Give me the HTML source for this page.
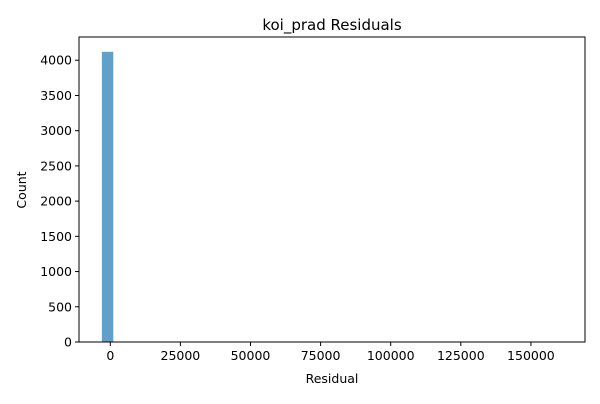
<!DOCTYPE html>
<html><head><meta charset="utf-8"><style>
body{margin:0;background:#fff;font-family:"DejaVu Sans","Liberation Sans",sans-serif;}
</style></head><body>
<svg id="chart" width="600" height="400" xmlns="http://www.w3.org/2000/svg" style="font-family:'DejaVu Sans','Liberation Sans',sans-serif"></svg>
<script>
const binStart = -3000;
const binWidth = 4076;
const counts = [4120,0,0,0,0,0,0,0,0,0,0,0,0,0,0,0,0,0,0,0,0,0,0,0,0,0,0,0,0,0,0,0,0,0,0,0,0,0,0,1];
const xTicks = [0,25000,50000,75000,100000,125000,150000];
const yTicks = [0,500,1000,1500,2000,2500,3000,3500,4000];

const L=79,R=585,T=37,B=342;
const xMin=-11160,xMax=169290,yMax=4330;
const sx=v=>L+(v-xMin)/(xMax-xMin)*(R-L);
const sy=v=>B-v/yMax*(B-T);
const svg=document.getElementById('chart');
const NS='http://www.w3.org/2000/svg';
function mk(tag,attrs,parent){const e=document.createElementNS(NS,tag);for(const k in attrs)e.setAttribute(k,attrs[k]);(parent||svg).appendChild(e);return e;}

counts.forEach((c,i)=>{
  const x0=sx(binStart+i*binWidth),x1=sx(binStart+(i+1)*binWidth);
  const r=mk('rect',{x:x0,y:sy(c),width:x1-x0,height:B-sy(c),fill:'#1f77b4','fill-opacity':0.7});
  
  
});
const frame=mk('rect',{x:L,y:T,width:R-L,height:B-T,fill:'none',stroke:'#000','stroke-width':1});


xTicks.forEach(v=>{
  const x=sx(v);
  mk('line',{x1:x,x2:x,y1:B,y2:B+4,stroke:'#000'});
  const t=mk('text',{x:x,y:B+18,'text-anchor':'middle','font-size':12.5,fill:'#000'});
  t.textContent=v;
  
  
});
yTicks.forEach(v=>{
  const y=sy(v);
  mk('line',{x1:L-4,x2:L,y1:y,y2:y,stroke:'#000'});
  const t=mk('text',{x:L-7,y:y+4.5,'text-anchor':'end','font-size':12.5,fill:'#000'});
  t.textContent=v;
  
  
});
const title=mk('text',{x:(L+R)/2,y:30,'text-anchor':'middle','font-size':15,fill:'#000'});
title.textContent='koi_prad Residuals';


const xt=mk('text',{x:(L+R)/2,y:383,'text-anchor':'middle','font-size':12.5,fill:'#000'});
xt.textContent='Residual';


const yt=mk('text',{x:0,y:0,'text-anchor':'middle','font-size':12.5,fill:'#000',transform:'translate(26,190) rotate(-90)'});
yt.textContent='Count';


</script>
</body></html>
